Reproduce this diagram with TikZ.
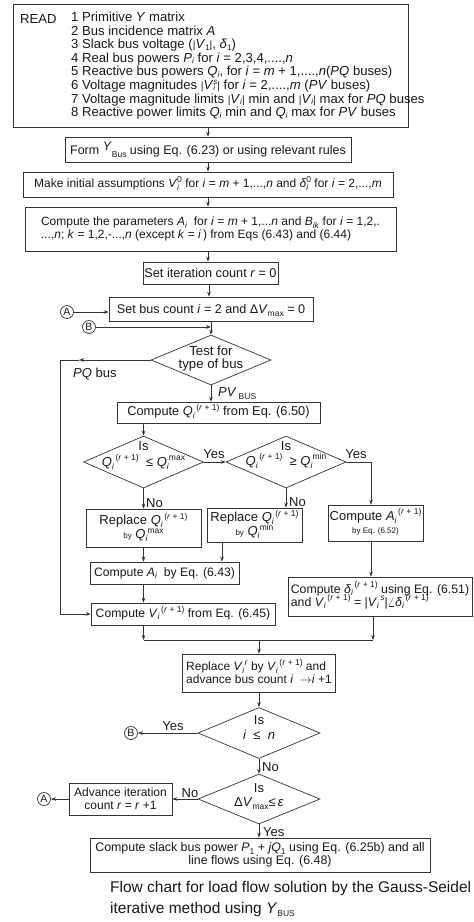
\documentclass[tikz,border=0pt]{standalone}
\usepackage{fontspec}
\setmainfont{Liberation Sans}
\usetikzlibrary{shapes.geometric,arrows.meta,calc}
\definecolor{lc}{gray}{0.2}
\definecolor{txt}{gray}{0.1}
\newcommand{\mv}[1]{\textit{#1}}
\newcommand{\lo}[1]{\smash{\raisebox{-0.22em}{\fontsize{8.5}{8.5}\selectfont #1}}}
\newcommand{\hi}[1]{\smash{\raisebox{0.42em}{\fontsize{8.5}{8.5}\selectfont #1}}}
\newcommand{\los}[1]{\smash{\raisebox{-0.1em}{\fontsize{8}{8}\selectfont #1}}}
\newcommand{\his}[1]{\smash{\raisebox{0.36em}{\fontsize{8}{8}\selectfont #1}}}
\newcommand{\vb}{{\fontsize{10.5}{10.5}\selectfont |}}
\newcommand{\rpo}{\hi{\,(\mv{r} + 1)}}
\newcommand{\sm}[1]{{\fontsize{8}{9}\selectfont #1}}
\begin{document}
\begin{tikzpicture}[x=1pt,y=-1pt,
  every node/.style={text=txt},
  font=\fontsize{13}{13}\selectfont,
  fs/.style={font=\fontsize{#1}{13}\selectfont},
  box/.style={draw=lc, line width=0.7pt, rectangle, inner sep=0pt, align=center},
  lbox/.style={box, align=left},
  diam/.style={draw=lc, line width=0.7pt, diamond, inner sep=0pt},
  conn/.style={draw=lc, line width=0.7pt, -{Stealth[length=5pt,width=3.6pt]}},
  wire/.style={draw=lc, line width=0.7pt},
  circ/.style={draw=lc, line width=0.7pt, circle, minimum size=13pt, inner sep=0pt, font=\fontsize{10.5}{10.5}\selectfont},
  lbl/.style={inner sep=0pt},
  rd/.style={inner sep=0pt, anchor=base west, text height=9.5pt, text depth=2.5pt, font=\fontsize{13.1}{13.6}\selectfont},
  capt/.style={inner sep=0pt, anchor=base west, font=\fontsize{15.5}{18}\selectfont}
]
\fill[white] (0,0) rectangle (474,922);
\useasboundingbox (0,0) rectangle (474,922);

% READ block
\node[box, minimum width=395pt, minimum height=123pt] (read) at (210.5,65.5) {};
\node[rd] (readlbl) at (20,23) {READ};
\node[rd] (rl1) at (71,21.5) {1 Primitive \mv{Y} matrix};
\node[rd] (rl2) at (71,35.1) {2 Bus incidence matrix \mv{A}};
\node[rd] (rl3) at (71,48.7) {3 Slack bus voltage (\vb\mv{V}\los{1}\vb, \mv{δ}\los{1})};
\node[rd] (rl4) at (71,62.3) {4 Real bus powers \mv{P}\los{\mv{i}} for \mv{i} = 2,3,4,....,\mv{n}};
\node[rd] (rl5) at (71,75.9) {5 Reactive bus powers \mv{Q}\los{\mv{i}}, for \mv{i} = \mv{m} + 1,....,\mv{n}(\mv{PQ} buses)};
\node[rd] (rl6) at (71,89.5) {6 Voltage magnitudes \vb\mv{V}\rlap{\los{\mv{i}}}\his{\mv{s}}\vb{} for \mv{i} = 2,....,\mv{m} (\mv{PV} buses)};
\node[rd] (rl7) at (71,103.1) {7 Voltage magnitude limits \vb\mv{V}\los{\mv{i}}\vb{} min and \vb\mv{V}\los{\mv{i}}\vb{} max for \mv{PQ} buses};
\node[rd] (rl8) at (71,116.7) {8 Reactive power limits \mv{Q}\los{\mv{i}} min and \mv{Q}\los{\mv{i}} max for \mv{PV} buses};

\node[box, fs=12.5, minimum width=286pt, minimum height=25pt] (ybus) at (208,149.5) {Form \raisebox{0.3em}{\mv{Y}}\lo{Bus} using Eq. (6.23) or using relevant rules};
\node[box, fs=12, minimum width=370pt, minimum height=25pt] (init) at (208,184.5) {Make initial assumptions \mv{V}\rlap{\lo{\mv{i}}}\hi{0} for \mv{i} = \mv{m} + 1,...,\mv{n} and \mv{δ}\rlap{\lo{\mv{i}}}\hi{0} for \mv{i} = 2,...,\mv{m}};
\node[lbox, fs=12, minimum width=371pt, minimum height=44pt] (param) at (210.5,229) {Compute the parameters \mv{A}\lo{\mv{i}}\ \ for \mv{i} = \mv{m} + 1,...\mv{n} and \mv{B}\lo{\mv{ik}} for \mv{i} = 1,2,.\\...,\mv{n}; \mv{k} = 1,2,-...,\mv{n} (except \mv{k} = \mv{i}\,) from Eqs (6.43) and (6.44)};
\node[box, fs=12.7, minimum width=135pt, minimum height=22pt] (iter) at (210.5,273) {Set iteration count \mv{r} = 0};
\node[box, fs=12.6, minimum width=204pt, minimum height=24pt] (busc) at (211,309) {Set bus count \mv{i} = 2 and Δ\mv{V}\lo{max} = 0};
\node[circ] (ca) at (67,312) {A};
\node[circ] (cb) at (89,327) {B};

\node[diam, minimum width=120pt, minimum height=50pt] (test) at (211,360) {};
\node[lbl, fs=13.2, align=center] (testt) at (211,358.5) {Test for\\type of bus};
\node[box, fs=12.8, minimum width=203pt, minimum height=21pt] (cq) at (218.5,412.5) {Compute \mv{Q}\lo{\mv{i}}\rpo{} from Eq. (6.50)};

\node[diam, minimum width=120pt, minimum height=52pt] (d1) at (143.5,462) {};
\node[lbl] (d1a) at (143.5,446) {Is};
\node[lbl] (d1b) at (143.5,463) {\mv{Q}\lo{\mv{i}}\rpo\ \ ≤ \mv{Q}\lo{\mv{i}}\hi{max}};
\node[diam, minimum width=120pt, minimum height=52pt] (d2) at (286,462) {};
\node[lbl] (d2a) at (286,446) {Is};
\node[lbl] (d2b) at (286,462) {\mv{Q}\lo{\mv{i}}\rpo\ \ ≥ \mv{Q}\lo{\mv{i}}\hi{min}};

\node[box, fs=13, minimum width=115pt, minimum height=38pt] (r1) at (143.5,528) {Replace \mv{Q}\lo{\mv{i}}\rpo\\[1pt]\sm{by} \mv{Q}\lo{\mv{i}}\hi{max}};
\node[box, fs=13, minimum width=95pt, minimum height=34pt] (r2) at (254.5,525) {Replace \mv{Q}\lo{\mv{i}}\rpo\\[1pt]\sm{by} \mv{Q}\lo{\mv{i}}\hi{min}};
\node[box, fs=13, minimum width=95pt, minimum height=36pt] (ca1) at (375.5,523) {Compute \mv{A}\lo{\mv{i}}\rpo\\\sm{by Eq. (6.52)}};
\node[box, fs=12.2, minimum width=149pt, minimum height=22pt] (cai) at (164.5,573) {Compute \mv{A}\lo{\mv{i}}\ \ by Eq. (6.43)};
\node[box, fs=12.2, minimum width=184pt, minimum height=22pt] (cvi) at (183,614) {Compute \mv{V}\lo{\mv{i}}\rpo{} from Eq. (6.45)};
\node[lbox, fs=12.3, minimum width=184pt, minimum height=39pt] (cd) at (380,596.5) {Compute \mv{δ}\lo{\mv{i}}\rpo{} using Eq. (6.51)\\and \mv{V}\lo{\mv{i}}\rpo{} = |\mv{V}\lo{\mv{i}}\hi{\,\mv{s}}|$\angle$\mv{δ}\lo{\mv{i}}\rpo};

\node[lbox, fs=12, minimum width=153pt, minimum height=38pt] (rv) at (259,673) {Replace \mv{V}\lo{\mv{i}}\hi{\mv{r}} by \mv{V}\lo{\mv{i}}\rpo{} and\\advance bus count \mv{i}\ \ $\rightarrow$\mv{i} +1};

\node[diam, minimum width=122pt, minimum height=51pt] (d3) at (259,733) {};
\node[lbl] (d3a) at (259,720) {Is};
\node[lbl] (d3b) at (259,734.5) {\mv{i}\ \ ≤\ \ \mv{n}};
\node[circ] (cb2) at (131,733) {B};

\node[diam, minimum width=122pt, minimum height=50pt] (d4) at (259,799) {};
\node[lbl] (d4a) at (259,788) {Is};
\node[lbl] (d4b) at (259,802) {Δ\mv{V}\lo{max}≤\,\mv{ε}};
\node[box, fs=12, minimum width=103pt, minimum height=32pt] (adv) at (120.5,799) {Advance iteration\\count \mv{r} = \mv{r} +1};
\node[circ] (ca2) at (44,799) {A};

\node[box, fs=12.4, minimum width=340pt, minimum height=34pt] (final) at (260,855) {Compute slack bus power \mv{P}\lo{1} + \mv{jQ}\lo{1} using Eq. (6.25b) and all\\line flows using Eq. (6.48)};

\node[capt] (cap1) at (110,892.5) {Flow chart for load flow solution by the Gauss-Seidel};
\node[capt] (cap2) at (110,913.5) {iterative method using \mv{Y}\lo{BUS}};

% labels
\node[lbl, anchor=west] (pql) at (73,374) {\mv{PQ} bus};
\node[lbl, anchor=west] (pvl) at (218,392) {\mv{PV}\,\lo{BUS}};
\node[lbl] (y1) at (214,454) {Yes};
\node[lbl] (y2) at (356,454) {Yes};
\node[lbl, anchor=west] (n1) at (146,503) {No};
\node[lbl, anchor=west] (n2) at (289,502) {No};
\node[lbl] (y3) at (173,726) {Yes};
\node[lbl, anchor=west] (n3) at (262,767) {No};
\node[lbl] (n4) at (190,793) {No};
\node[lbl, anchor=west] (y4) at (263,832) {Yes};

% coordinates
\coordinate (x209) at (209,0);
\coordinate (x222) at (222,0);
\coordinate (k1) at (371,462);
\coordinate (m1) at (143.5,640);
\coordinate (m2) at (373,640);
\coordinate (m0) at (259,640);
\coordinate (pqm) at (79,360);
\coordinate (pqc) at (60,360);

% connectors
\draw[conn] (read.south -| ybus.north) -- (ybus.north);
\draw[conn] (ybus.south) -- (ybus.south |- init.north);
\draw[conn] (init.south) -- (init.south |- param.north);
\draw[conn] (param.south -| init.south) -- (iter.north -| init.south);
\draw[conn] (iter.south -| x209) -- (busc.north -| x209);
\draw[conn] (busc.south -| test.north) -- (test.north);
\draw[conn] (ca) -- (ca -| busc.west);
\draw[conn] (cb) -- (cb -| test.north);
\draw[conn] (test.south) -- (test.south |- cq.north);
\draw[conn] (cq.south -| d1.north) -- (d1.north);
\draw[conn] (d1.east) -- (d2.west);
\draw[conn] (d2.east) -- (k1) -- (k1 |- ca1.north);
\draw[conn] (d1.south) -- (d1.south |- r1.north);
\draw[conn] (d2.south) -- (d2.south |- r2.north);
\draw[conn] (r1.south) -- (r1.south |- cai.north);
\draw[conn] (r2.south -| x222) -- (cai.north -| x222);
\draw[conn] (cai.south -| r1.south) -- (cvi.north -| r1.south);
\draw[conn] (ca1.south -| k1) -- (cd.north -| k1);
\draw[conn] (cvi.south -| m1) -- (m1);
\draw[conn] (cd.south -| m2) -- (m2);
\draw[wire] (m1) -- (m2);
\draw[conn] (m0) -- (rv.north);
\draw[conn] (rv.south) -- (d3.north);
\draw[conn] (d3.west) -- (cb2);
\draw[conn] (d3.south) -- (d4.north);
\draw[conn] (d4.west) -- (adv.east);
\draw[conn] (adv.west) -- (ca2);
\draw[conn] (d4.south) -- (d4.south |- final.north);
\draw[conn] (test.west) -- (pqm);
\draw[conn] (pqm) -- (pqc) |- (cvi.west);
\end{tikzpicture}
\end{document}
